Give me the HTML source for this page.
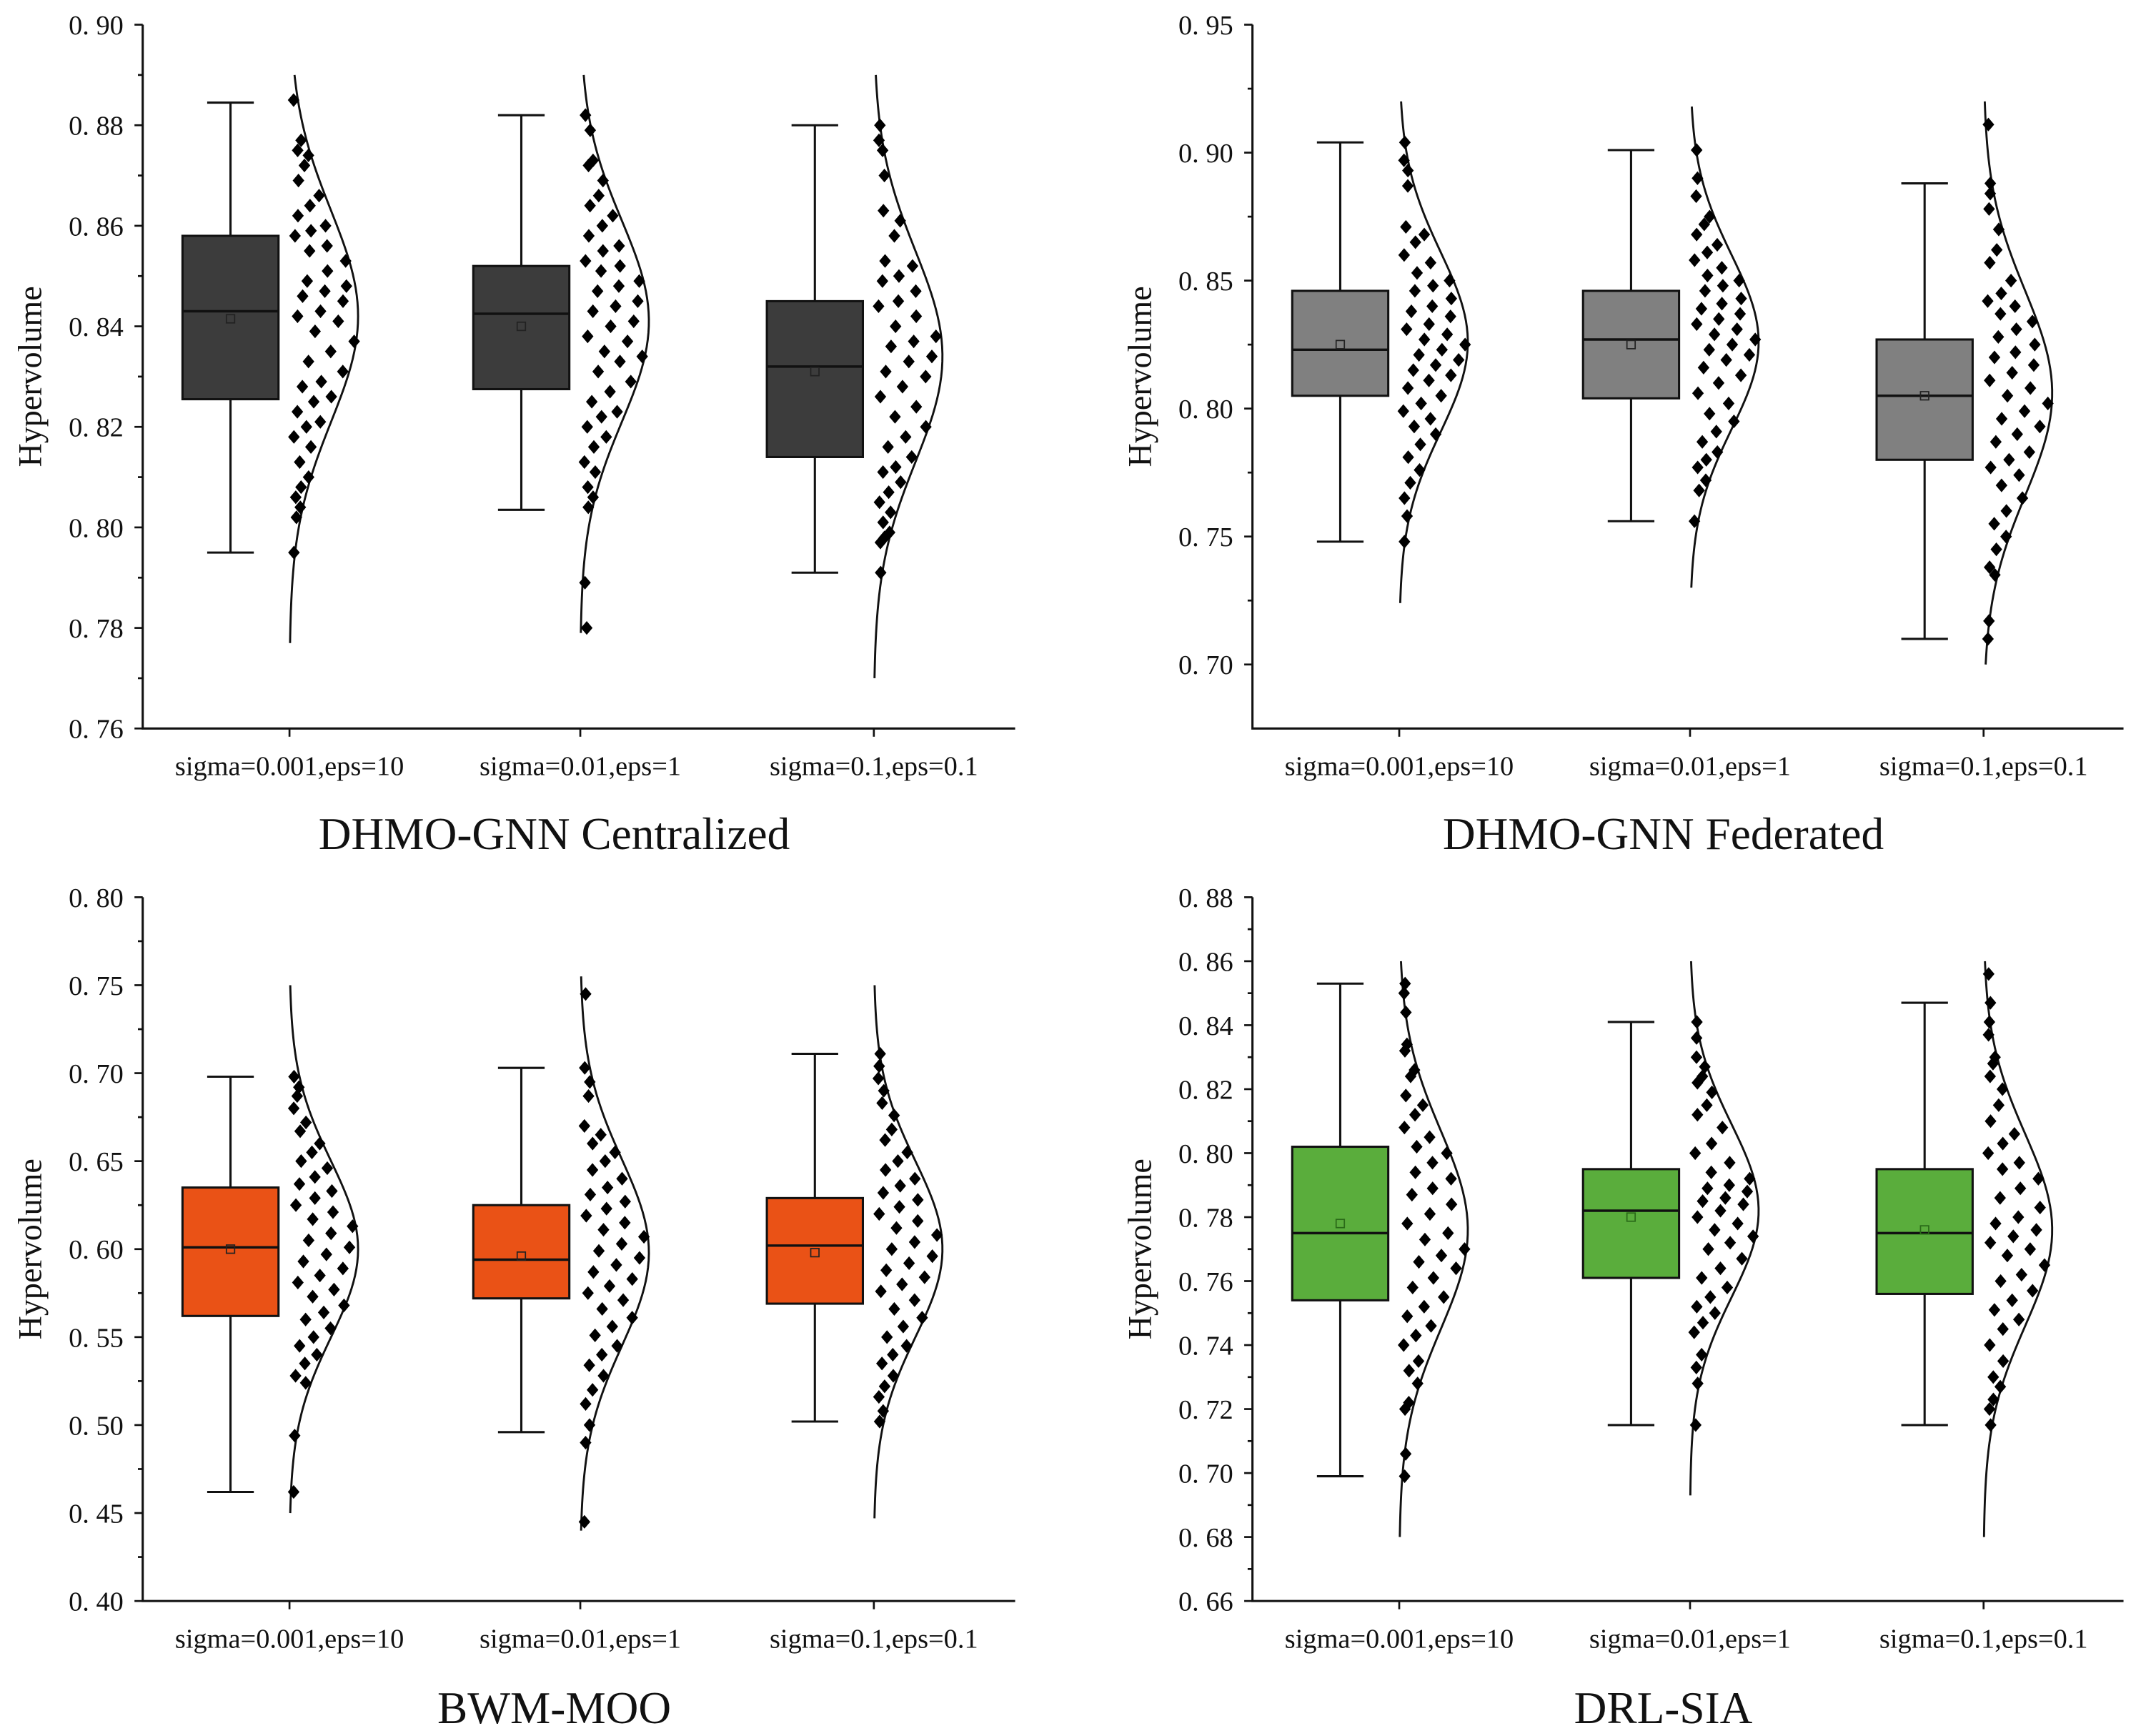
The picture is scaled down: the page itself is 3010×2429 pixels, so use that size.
<!DOCTYPE html>
<html><head><meta charset="utf-8"><style>
html,body{margin:0;padding:0;background:#fff;}
svg{display:block;}
text{font-family:"Liberation Serif",serif;fill:#111;}
</style></head><body>
<svg id="fig" width="3010" height="2429" viewBox="0 0 1568 1265.4" xmlns="http://www.w3.org/2000/svg"></svg>
<script>
const categories = ["sigma=0.001,eps=10","sigma=0.01,eps=1","sigma=0.1,eps=0.1"];
const panelTitles = ["DHMO-GNN Centralized","DHMO-GNN Federated","BWM-MOO","DRL-SIA"];
const yMin = [0.76,0.675,0.40,0.66];
const yMax = [0.90,0.95,0.80,0.88];
const yMajor = [0.02,0.05,0.05,0.02];
const yTickStart = [0.76,0.70,0.40,0.66];
const boxColors = ["#3c3c3c","#808080","#ea5216","#5aad3c"];
// per panel: [cat1,cat2,cat3] of [whiskerLow, q1, median, q3, whiskerHigh, mean]
const boxStats = [
 [[0.795,0.8255,0.843,0.858,0.8845,0.8415],[0.8035,0.8275,0.8425,0.852,0.882,0.840],[0.791,0.814,0.832,0.845,0.880,0.831]],
 [[0.748,0.805,0.823,0.846,0.904,0.825],[0.756,0.804,0.827,0.846,0.901,0.825],[0.710,0.780,0.805,0.827,0.888,0.805]],
 [[0.462,0.562,0.601,0.635,0.698,0.600],[0.496,0.572,0.594,0.625,0.703,0.596],[0.502,0.569,0.602,0.629,0.711,0.598]],
 [[0.699,0.754,0.775,0.802,0.853,0.778],[0.715,0.761,0.782,0.795,0.841,0.780],[0.715,0.756,0.775,0.795,0.847,0.776]]
];
// density curve: [top, bottom, mu, sd]
const curveParams = [
 [[0.89,0.777,0.842,0.021],[0.89,0.779,0.841,0.020],[0.89,0.770,0.834,0.021]],
 [[0.92,0.724,0.826,0.035],[0.918,0.730,0.826,0.034],[0.92,0.700,0.806,0.040]],
 [[0.75,0.45,0.600,0.050],[0.755,0.44,0.598,0.053],[0.75,0.447,0.600,0.050]],
 [[0.86,0.68,0.776,0.031],[0.86,0.693,0.782,0.027],[0.86,0.68,0.776,0.030]]
];
const pointsTL1=[0.885,0.877,0.875,0.874,0.872,0.869,0.866,0.864,0.862,0.860,0.859,0.858,0.856,0.855,0.853,0.851,0.849,0.848,0.847,0.846,0.845,0.843,0.842,0.841,0.839,0.837,0.835,0.833,0.831,0.829,0.828,0.826,0.825,0.823,0.821,0.820,0.818,0.816,0.813,0.810,0.808,0.806,0.804,0.802,0.795];
const pointsTL2=[0.882,0.879,0.873,0.872,0.869,0.866,0.864,0.862,0.860,0.858,0.856,0.855,0.853,0.852,0.851,0.849,0.848,0.847,0.845,0.844,0.843,0.841,0.840,0.838,0.837,0.835,0.834,0.833,0.831,0.829,0.827,0.825,0.823,0.822,0.820,0.818,0.816,0.813,0.811,0.808,0.806,0.804,0.789,0.780];
const pointsTL3=[0.880,0.877,0.875,0.870,0.863,0.861,0.858,0.853,0.852,0.850,0.849,0.847,0.845,0.844,0.842,0.840,0.838,0.837,0.836,0.834,0.833,0.831,0.830,0.828,0.826,0.824,0.822,0.820,0.818,0.816,0.814,0.812,0.811,0.809,0.807,0.805,0.803,0.801,0.799,0.798,0.797,0.791];
const pointsTR1=[0.904,0.897,0.893,0.887,0.871,0.868,0.865,0.860,0.857,0.853,0.850,0.848,0.846,0.843,0.840,0.838,0.836,0.833,0.831,0.829,0.827,0.825,0.823,0.821,0.819,0.817,0.815,0.813,0.811,0.808,0.805,0.802,0.799,0.796,0.793,0.790,0.786,0.781,0.776,0.771,0.765,0.758,0.748];
const pointsTR2=[0.901,0.890,0.883,0.875,0.872,0.868,0.864,0.861,0.858,0.855,0.852,0.850,0.848,0.846,0.843,0.841,0.839,0.837,0.835,0.833,0.831,0.829,0.827,0.825,0.823,0.821,0.819,0.816,0.813,0.810,0.806,0.802,0.798,0.795,0.791,0.787,0.783,0.780,0.777,0.772,0.768,0.756];
const pointsTR3=[0.911,0.888,0.884,0.878,0.870,0.862,0.857,0.850,0.845,0.842,0.840,0.837,0.834,0.831,0.828,0.825,0.822,0.820,0.817,0.814,0.811,0.808,0.805,0.802,0.799,0.796,0.793,0.790,0.787,0.783,0.780,0.777,0.774,0.770,0.765,0.760,0.755,0.750,0.745,0.738,0.735,0.717,0.710];
const pointsBL1=[0.698,0.692,0.687,0.680,0.672,0.667,0.660,0.655,0.650,0.646,0.641,0.637,0.633,0.629,0.625,0.621,0.617,0.613,0.609,0.605,0.601,0.597,0.593,0.589,0.585,0.581,0.577,0.573,0.568,0.564,0.560,0.555,0.550,0.545,0.540,0.535,0.528,0.524,0.494,0.462];
const pointsBL2=[0.745,0.703,0.695,0.687,0.670,0.665,0.660,0.655,0.650,0.645,0.640,0.635,0.631,0.627,0.623,0.619,0.615,0.611,0.607,0.603,0.599,0.595,0.591,0.587,0.583,0.579,0.575,0.571,0.566,0.561,0.556,0.551,0.545,0.540,0.534,0.528,0.520,0.512,0.500,0.490,0.445];
const pointsBL3=[0.711,0.704,0.697,0.690,0.683,0.676,0.668,0.662,0.655,0.650,0.645,0.640,0.636,0.632,0.628,0.624,0.620,0.616,0.612,0.608,0.604,0.600,0.596,0.592,0.588,0.584,0.580,0.576,0.571,0.566,0.561,0.556,0.550,0.545,0.540,0.535,0.528,0.522,0.516,0.508,0.502];
const pointsBR1=[0.853,0.850,0.844,0.834,0.832,0.826,0.824,0.818,0.815,0.812,0.808,0.805,0.802,0.800,0.797,0.794,0.792,0.789,0.787,0.784,0.781,0.778,0.775,0.773,0.770,0.768,0.766,0.764,0.761,0.758,0.755,0.752,0.749,0.746,0.743,0.740,0.735,0.732,0.728,0.722,0.720,0.706,0.699];
const pointsBR2=[0.841,0.836,0.830,0.827,0.824,0.822,0.819,0.815,0.812,0.808,0.803,0.800,0.797,0.794,0.792,0.790,0.789,0.788,0.786,0.785,0.784,0.782,0.780,0.778,0.776,0.774,0.772,0.770,0.767,0.764,0.761,0.758,0.755,0.752,0.750,0.747,0.744,0.737,0.733,0.728,0.715];
const pointsBR3=[0.856,0.847,0.841,0.837,0.830,0.828,0.824,0.820,0.815,0.810,0.806,0.803,0.800,0.797,0.795,0.792,0.789,0.786,0.783,0.780,0.778,0.776,0.774,0.772,0.770,0.768,0.765,0.762,0.760,0.757,0.754,0.751,0.748,0.745,0.740,0.735,0.730,0.727,0.723,0.720,0.715];
const pointSets=[[pointsTL1,pointsTL2,pointsTL3],[pointsTR1,pointsTR2,pointsTR3],[pointsBL1,pointsBL2,pointsBL3],[pointsBR1,pointsBR2,pointsBR3]];

const NS="http://www.w3.org/2000/svg";
const svg=document.getElementById('fig');
function mk(tag,attrs,parent){const e=document.createElementNS(NS,tag);for(const k in attrs)e.setAttribute(k,attrs[k]);(parent||svg).appendChild(e);return e;}

const layout=[{x0:104,x1:740,top:18,bot:531,ty:619},{x0:913,x1:1548,top:18,bot:531,ty:619},{x0:104,x1:740,top:654,bot:1167,ty:1256},{x0:913,x1:1548,top:654,bot:1167,ty:1256}];
const catOff=[107,319,533];
const peakW=50;

for(let p=0;p<4;p++){
  const L=layout[p];
  const g=mk('g',{});
  
  
  const yS=v=>L.bot-(v-yMin[p])/(yMax[p]-yMin[p])*(L.bot-L.top);
  const ax=mk('path',{d:`M${L.x0},${L.top} V${L.bot} H${L.x1}`,fill:'none',stroke:'#111','stroke-width':1.6},g);
  
  
  const step=yMajor[p];
  for(let v=yTickStart[p];v<=yMax[p]+1e-9;v+=step/2){
    const major=Math.abs(((v-yTickStart[p])/step)-Math.round((v-yTickStart[p])/step))<1e-6;
    const y=yS(v);
    mk('line',{x1:L.x0,x2:L.x0-(major?6:3.5),y1:y,y2:y,stroke:'#111','stroke-width':1.4},g);
    if(major){
      const t=mk('text',{x:L.x0-14,y:y+7,'text-anchor':'end','font-size':20},g);
      t.textContent=v.toFixed(2).replace('.','. ');
      
      
    }
  }
  const yl=mk('text',{x:0,y:0,'text-anchor':'middle','font-size':24,transform:`translate(${L.x0-74},${(L.top+L.bot)/2}) rotate(-90)`},g);
  yl.textContent='Hypervolume';
  
  
  const tt=mk('text',{x:(L.x0+L.x1)/2-18,y:L.ty,'text-anchor':'middle','font-size':33},g);
  tt.textContent=panelTitles[p];
  
  
  for(let c=0;c<3;c++){
    const cx=L.x0+catOff[c];
    mk('line',{x1:cx,x2:cx,y1:L.bot,y2:L.bot+6,stroke:'#111','stroke-width':1.4},g);
    const xl=mk('text',{x:cx,y:L.bot+34,'text-anchor':'middle','font-size':20},g);
    xl.textContent=categories[c];
    
    
    const s=boxStats[p][c];
    const bx=cx-43, hw=35;
    const wh=mk('path',{d:`M${bx-17},${yS(s[4])}H${bx+17}M${bx},${yS(s[4])}V${yS(s[3])}M${bx},${yS(s[1])}V${yS(s[0])}M${bx-17},${yS(s[0])}H${bx+17}`,stroke:'#111','stroke-width':1.6,fill:'none'},g);
    
    
    const r=mk('rect',{x:bx-hw,y:yS(s[3]),width:2*hw,height:yS(s[1])-yS(s[3]),fill:boxColors[p],stroke:'#111','stroke-width':1.6},g);
    
    
    const md=mk('line',{x1:bx-hw,x2:bx+hw,y1:yS(s[2]),y2:yS(s[2]),stroke:'#111','stroke-width':1.8},g);
    
    
    const mn=mk('rect',{x:bx-3,y:yS(s[5])-3,width:6,height:6,fill:'none',stroke:p==3?'#2a6a18':'#222','stroke-width':0.9},g);
    
    
    const cp=curveParams[p][c];
    const dens=v=>peakW*Math.exp(-((v-cp[2])**2)/(2*cp[3]*cp[3]));
    let d='';
    for(let i=0;i<=80;i++){const v=cp[0]-(cp[0]-cp[1])*i/80;d+=(i?'L':'M')+(cx+dens(v)).toFixed(2)+','+yS(v).toFixed(2);}
    const cv=mk('path',{d:d,fill:'none',stroke:'#111','stroke-width':1.5},g);
    
    
    const pts=pointSets[p][c];
    pts.forEach((v,i)=>{
      const w=Math.max(dens(v)-4,2);
      const frac=((i*7919+c*131+p*53)%97)/96;
      const x=cx+3+frac*w, y=yS(v), r2=5;
      const pt=mk('path',{d:`M${x},${y-r2}L${x+r2*0.85},${y}L${x},${y+r2}L${x-r2*0.85},${y}Z`,fill:'#000'},g);
      
      
    });
  }
}
</script>
</body></html>
